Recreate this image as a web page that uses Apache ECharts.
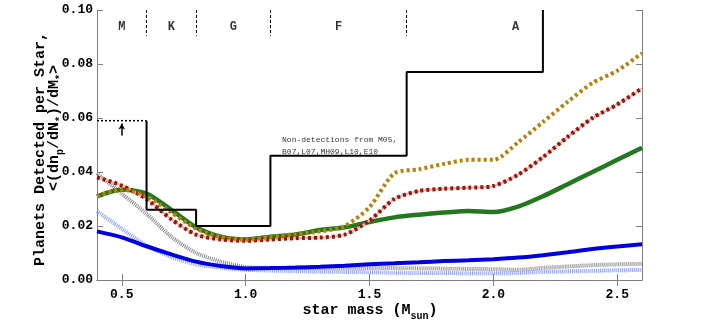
<!DOCTYPE html>
<html>
<head>
<meta charset="utf-8">
<script src="https://cdn.jsdelivr.net/npm/echarts@6/dist/echarts.min.js"></script>
<style>
  html, body { margin: 0; padding: 0; background: #fff; }
  #main { width: 705px; height: 332px; }
</style>
</head>
<body>
<div id="main"></div>
<script>
// 恒星质量网格
var massGrid = [0.4, 0.5, 0.6, 0.7, 0.8, 0.9, 1.0, 1.1, 1.2, 1.3, 1.4, 1.5,
                1.6, 1.7, 1.8, 1.9, 2.0, 2.1, 2.2, 2.3, 2.4, 2.5, 2.6];

var greenVals = [0.031, 0.0335, 0.032, 0.026, 0.0195, 0.016, 0.015, 0.016, 0.0168, 0.0185, 0.0195, 0.0215,
                 0.0232, 0.0242, 0.025, 0.0256, 0.0252, 0.0272, 0.031, 0.0355, 0.040, 0.0445, 0.049];
var goldVals = [0.031, 0.0335, 0.031, 0.025, 0.019, 0.016, 0.015, 0.016, 0.017, 0.018, 0.020, 0.027,
                0.0395, 0.041, 0.043, 0.0445, 0.0445, 0.051, 0.0585, 0.066, 0.073, 0.0775, 0.084];
var redVals = [0.038, 0.035, 0.030, 0.0225, 0.0168, 0.015, 0.0145, 0.015, 0.0155, 0.0157, 0.0168, 0.022,
               0.030, 0.033, 0.0338, 0.0342, 0.0348, 0.039, 0.0455, 0.053, 0.060, 0.065, 0.071];
var blueVals = [0.018, 0.0158, 0.0125, 0.0095, 0.0068, 0.0052, 0.0043, 0.0044, 0.0046, 0.0049, 0.0053, 0.0058,
                0.0062, 0.0066, 0.007, 0.0073, 0.0077, 0.0083, 0.0092, 0.0103, 0.0115, 0.0124, 0.0132];
var greyVals = [0.0395, 0.032, 0.0245, 0.016, 0.010, 0.0068, 0.0048, 0.0045, 0.0044, 0.0044, 0.0044, 0.0044,
                0.0044, 0.0043, 0.0042, 0.0041, 0.004, 0.0038, 0.0045, 0.005, 0.0055, 0.0058, 0.006];
var lightBlueVals = [0.0255, 0.019, 0.0128, 0.0085, 0.0058, 0.0045, 0.0038, 0.0035, 0.0033, 0.0031, 0.003, 0.0029,
                     0.0027, 0.0026, 0.0026, 0.0025, 0.0025, 0.0026, 0.003, 0.0032, 0.0034, 0.0036, 0.0037];

// 非探测上限（阶梯）
var stepX = [0.6, 0.6, 0.8, 0.8, 1.1, 1.1, 1.65, 1.65, 2.2, 2.2];
var stepY = [0.059, 0.026, 0.026, 0.020, 0.020, 0.046, 0.046, 0.077, 0.077, 0.10];
var mLimitX = [0.4, 0.6];
var mLimitY = 0.059;
var arrowX = 0.5;
var arrowY = [0.0535, 0.058];

// 光谱型分界与标签
var typeBounds = [0.6, 0.8, 1.1, 1.65];
var typeNames = ['M', 'K', 'G', 'F', 'A'];
var typeCenters = [0.5, 0.7, 0.95, 1.375, 2.09];

var xTicks = [0.5, 1.0, 1.5, 2.0, 2.5];
var noteText = 'Non-detections from M05,\nB07,L07,MH09,L10,E10';

function pairs(xs, ys) {
    return xs.map(function (x, i) { return [x, ys[i]]; });
}

var myChart = echarts.init(document.getElementById('main'));

var mono = "'Liberation Mono', 'DejaVu Sans Mono', monospace";
var axisCol = '#808080';

function curve(data, color, width, dash, z) {
    return {
        type: 'line',
        data: pairs(massGrid, data),
        symbol: 'none',
        smooth: 0.25,
        z: z,
        lineStyle: { color: color, width: width, type: dash, cap: 'butt' }
    };
}

var sub = { fontFamily: mono, fontWeight: 'bold', fontSize: 10, lineHeight: 12, padding: [8, 0, 0, 0], verticalAlign: 'top' };
var main = { fontFamily: mono, fontWeight: 'bold', fontSize: 15, lineHeight: 16, verticalAlign: 'top' };

option = {
    animation: false,
    grid: { left: 97, right: 63, top: 10, bottom: 52 },
    xAxis: [{
        type: 'value', min: 0.4, max: 2.6,
        axisLine: { lineStyle: { color: axisCol } },
        axisTick: { inside: true, length: 6, customValues: xTicks, lineStyle: { color: axisCol } },
        axisLabel: { customValues: xTicks, color: '#000', fontFamily: mono, fontWeight: 'bold', fontSize: 13,
                     margin: 8, formatter: function (v) { return v.toFixed(1); } },
        splitLine: { show: false }
    }, {
        type: 'value', min: 0.4, max: 2.6, position: 'top',
        axisLine: { lineStyle: { color: axisCol } },
        axisTick: { inside: true, length: 6, customValues: xTicks, lineStyle: { color: axisCol } },
        axisLabel: { show: false },
        splitLine: { show: false }
    }],
    yAxis: [{
        type: 'value', min: 0, max: 0.1, interval: 0.02,
        axisLine: { show: true, lineStyle: { color: axisCol } },
        axisTick: { show: true, inside: true, length: 6, lineStyle: { color: axisCol } },
        axisLabel: { color: '#000', fontFamily: mono, fontWeight: 'bold', fontSize: 13, margin: 4,
                     formatter: function (v) { return v.toFixed(2); } },
        splitLine: { show: false }
    }, {
        type: 'value', min: 0, max: 0.1, interval: 0.02, position: 'right',
        axisLine: { show: true, lineStyle: { color: axisCol } },
        axisTick: { show: true, inside: true, length: 6, lineStyle: { color: axisCol } },
        axisLabel: { show: false },
        splitLine: { show: false }
    }],
    series: [
        curve(greyVals, '#8a8a8a', 4, [1, 1], 2),
        curve(lightBlueVals, '#8c9cff', 4, [1, 1], 2),
        curve(blueVals, '#0000e0', 4, 'solid', 3),
        curve(greenVals, '#23781f', 4.5, 'solid', 3),
        curve(redVals, '#eab0aa', 2, 'solid', 4),
        curve(redVals, '#9a1508', 4, [3, 3], 5),
        curve(goldVals, '#b8800a', 4, [3, 3], 6),
        {
            // 阶梯上限
            type: 'line',
            data: pairs(stepX, stepY),
            symbol: 'none',
            z: 7,
            lineStyle: { color: '#000', width: 2 }
        },
        {
            type: 'line',
            data: [[mLimitX[0], mLimitY], [mLimitX[1], mLimitY]],
            symbol: 'none',
            z: 7,
            lineStyle: { color: '#000', width: 1.5, type: [2, 2] },
            markLine: {
                silent: true,
                symbol: ['none', 'none'],
                label: { show: false },
                lineStyle: { color: '#000', width: 1, type: [3, 2] },
                data: typeBounds.map(function (b) {
                    return [{ coord: [b, 0.1] }, { coord: [b, 0.0905] }];
                })
            }
        },
        {
            // 上限箭头
            type: 'line',
            data: [],
            symbol: 'none',
            z: 7,
            markLine: {
                silent: true,
                symbol: ['none', 'arrow'],
                symbolSize: [5, 6],
                label: { show: false },
                lineStyle: { color: '#000', width: 1.5, type: 'solid' },
                data: [[{ coord: [arrowX, arrowY[0]] }, { coord: [arrowX, arrowY[1]] }]]
            }
        },
        {
            type: 'scatter',
            symbolSize: 0,
            z: 8,
            data: typeNames.map(function (n, i) { return { name: n, value: [typeCenters[i], 0.0937] }; }),
            label: { show: true, position: 'inside', formatter: '{b}', color: '#000',
                     fontFamily: mono, fontWeight: 'bold', fontSize: 12 }
        },
        {
            type: 'scatter',
            symbolSize: 0,
            z: 8,
            data: [{ name: noteText, value: [1.147, 0.0497] }],
            label: { show: true, position: 'right', distance: 0, formatter: '{b}', color: '#000',
                     fontFamily: mono, fontSize: 8, lineHeight: 12, align: 'left' }
        }
    ],
    graphic: [{
        type: 'text', x: 40, y: 149, rotation: Math.PI / 2,
        style: { text: 'Planets Detected per Star,', fontFamily: mono, fontWeight: 'bold', fontSize: 15,
                 fill: '#000', align: 'center', verticalAlign: 'middle' }
    }, {
        type: 'text', x: 55, y: 128, rotation: Math.PI / 2,
        style: {
            text: '{m|<(dn}{s|p}{m|/dN}{s|*}{m|)/dM}{s|*}{m|>}',
            rich: { m: main, s: sub },
            fill: '#000', align: 'center', verticalAlign: 'middle'
        }
    }, {
        type: 'text', x: 370, y: 311,
        style: {
            text: '{m|star mass (M}{s|sun}{m|)}',
            rich: { m: main, s: sub },
            fill: '#000', align: 'center', verticalAlign: 'middle'
        }
    }]
};

myChart.setOption(option);
</script>
</body>
</html>
